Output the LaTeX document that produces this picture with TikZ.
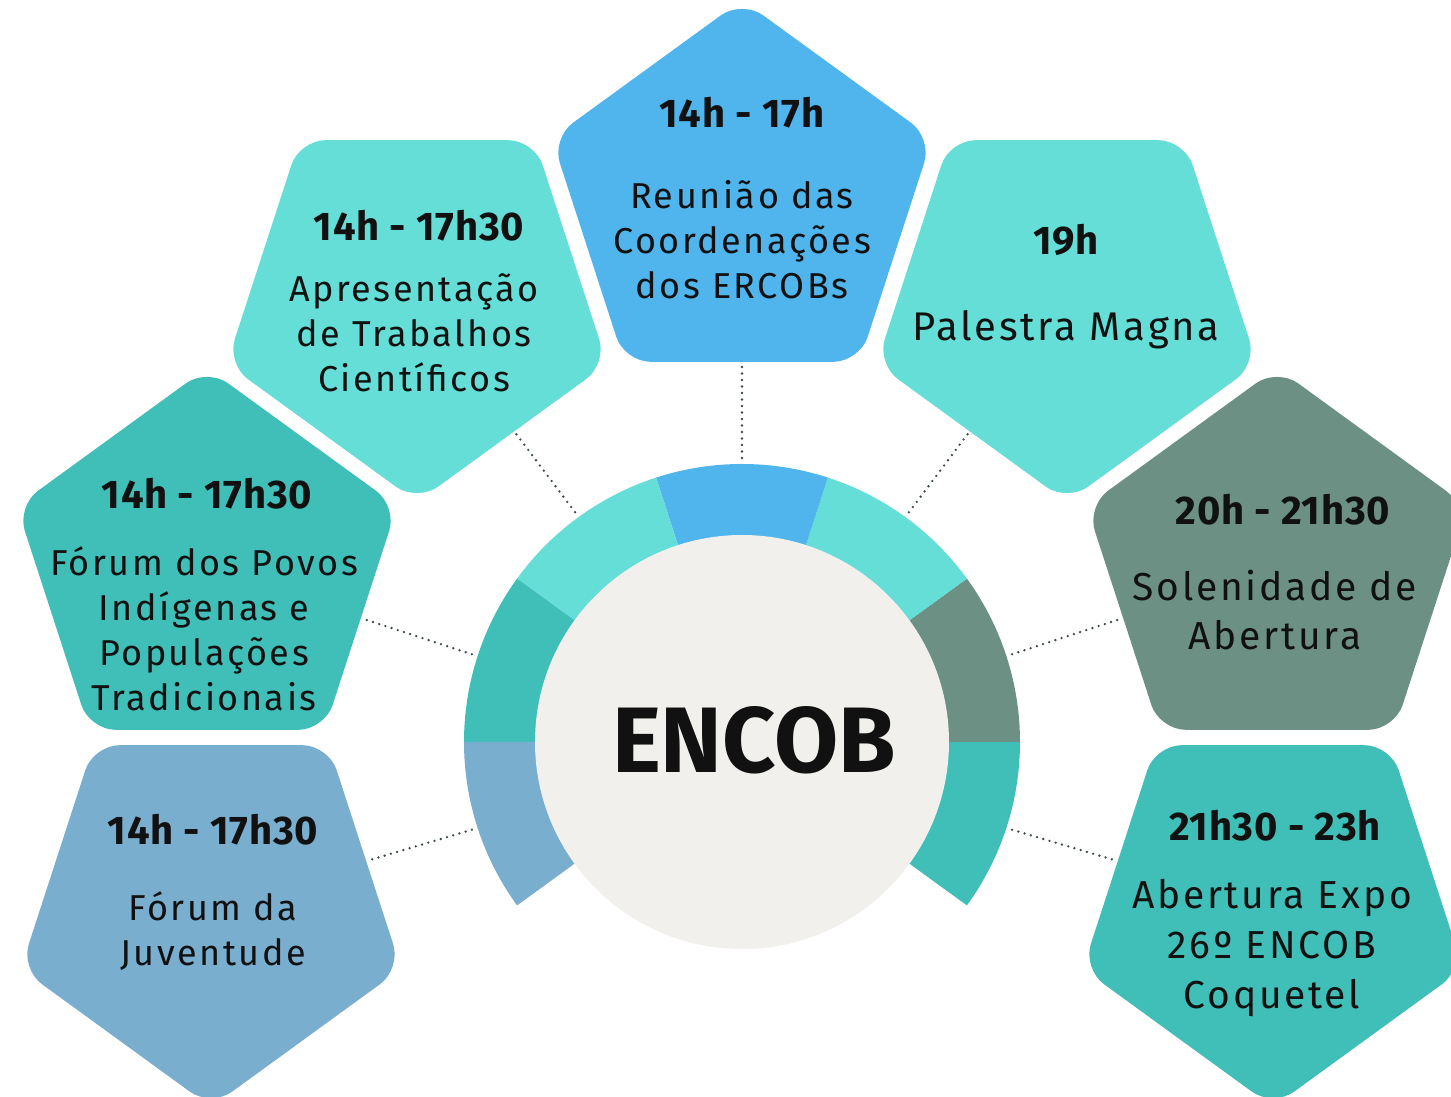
\documentclass[tikz,border=0pt]{standalone}
\usepackage{fontspec}
\setmainfont{Fira Sans}
\newfontfamily\descfont[LetterSpace=7]{Fira Sans}
\newfontfamily\timefont[LetterSpace=2]{Fira Sans}
\usetikzlibrary{shapes.geometric}
\definecolor{cblue}{HTML}{50B4ED}
\definecolor{cltea}{HTML}{64DED6}
\definecolor{cteal}{HTML}{40BFB8}
\definecolor{cgray}{HTML}{6C9184}
\definecolor{cbgr}{HTML}{7AAECF}
\definecolor{chub}{HTML}{F1F0EC}
\definecolor{cink}{HTML}{111111}
\definecolor{cdot}{HTML}{3C4A4A}
\begin{document}
\begin{tikzpicture}[x=1pt,y=1pt,
 pent/.style={regular polygon, regular polygon sides=5, minimum size=400pt, inner sep=0pt, outer sep=0pt, rounded corners=26pt, draw=none},
 pdown/.style={pent, shape border rotate=180},
 timelbl/.style={font=\timefont\fontsize{40}{44}\selectfont\bfseries, text=cink, inner sep=0pt},
 desc/.style={font=\descfont\fontsize{36}{45}\selectfont, text=cink, align=center, inner sep=0pt},
 descbig/.style={desc, font=\descfont\fontsize{39}{49}\selectfont},
 conn/.style={draw=cdot, line width=2.6pt, line cap=round, dash pattern=on 0pt off 6.5pt},
]
\useasboundingbox (-742,-355) rectangle (709,742);
\clip (-742,-355) rectangle (709,742);
\fill[white] (-742,-355) rectangle (709,742);

% pentagons
\node[pent, fill=cblue] (reu) at (0,542) {};
\node[pdown, fill=cltea] (apr) at (-325,440) {};
\node[pdown, fill=cltea] (pal) at (325,440) {};
\node[pent, fill=cteal] (pov) at (-535,174) {};
\node[pent, fill=cgray] (sol) at (535,174) {};
\node[pdown, fill=cbgr] (juv) at (-531,-165) {};
\node[pdown, fill=cteal] (abe) at (531,-165) {};

% ring anchor points
\coordinate (r-reu) at (90:284);
\coordinate (r-apr) at (126:284);
\coordinate (r-pal) at (54:284);
\coordinate (r-pov) at (162:284);
\coordinate (r-sol) at (18:284);
\coordinate (r-juv) at (198:284);
\coordinate (r-abe) at (-18:284);

% dotted connectors
\draw[conn] (r-reu) -- (reu);
\draw[conn] (r-apr) -- (apr);
\draw[conn] (r-pal) -- (pal);
\draw[conn] (r-pov) -- (pov);
\draw[conn] (r-sol) -- (sol);
\draw[conn] (r-juv) -- (juv);
\draw[conn] (r-abe) -- (abe);

% ring segments
\foreach \a/\c in {-36/cteal, 0/cgray, 36/cltea, 72/cblue, 108/cltea, 144/cteal, 180/cbgr}{
  \pgfmathsetmacro{\b}{\a+36}
  \fill[\c] (\a:278) arc[start angle=\a, end angle=\b, radius=278] -- (\b:200) arc[start angle=\b, end angle=\a, radius=200] -- cycle;
}

% hub
\node[circle, fill=chub, minimum size=414pt, inner sep=0pt] (hub) at (0,0) {};
\node[font=\fontsize{93}{93}\selectfont\bfseries, text=cink, inner sep=0pt] (hubtxt) at (12,2) {ENCOB};

% texts
\node[timelbl] (t-reu) at (0,629) {14h - 17h};
\node[desc] (d-reu) at (0,502) {Reunião das\\Coordenações\\dos ERCOBs};

\node[timelbl] (t-apr) at (-323,516) {14h - 17h30};
\node[desc] (d-apr) at (-328,409) {Apresentação\\de Trabalhos\\Científicos};

\node[timelbl] (t-pal) at (324,502) {19h};
\node[descbig, font=\descfont\fontsize{40}{49}\selectfont] (d-pal) at (324,412) {Palestra Magna};

\node[timelbl] (t-pov) at (-535,248) {14h - 17h30};
\node[desc] (d-pov) at (-538,113) {Fórum dos Povos\\Indígenas e\\Populações\\Tradicionais};

\node[timelbl] (t-sol) at (541,232) {20h - 21h30};
\node[descbig] (d-sol) at (533,132) {Solenidade de\\Abertura};

\node[timelbl] (t-juv) at (-529,-88) {14h - 17h30};
\node[desc] (d-juv) at (-529,-189) {Fórum da\\Juventude};

\node[timelbl] (t-abe) at (533,-84) {21h30 - 23h};
\node[descbig, font=\descfont\fontsize{39}{50}\selectfont] (d-abe) at (530,-206) {Abertura Expo\\26º ENCOB\\Coquetel};
\end{tikzpicture}
\end{document}
